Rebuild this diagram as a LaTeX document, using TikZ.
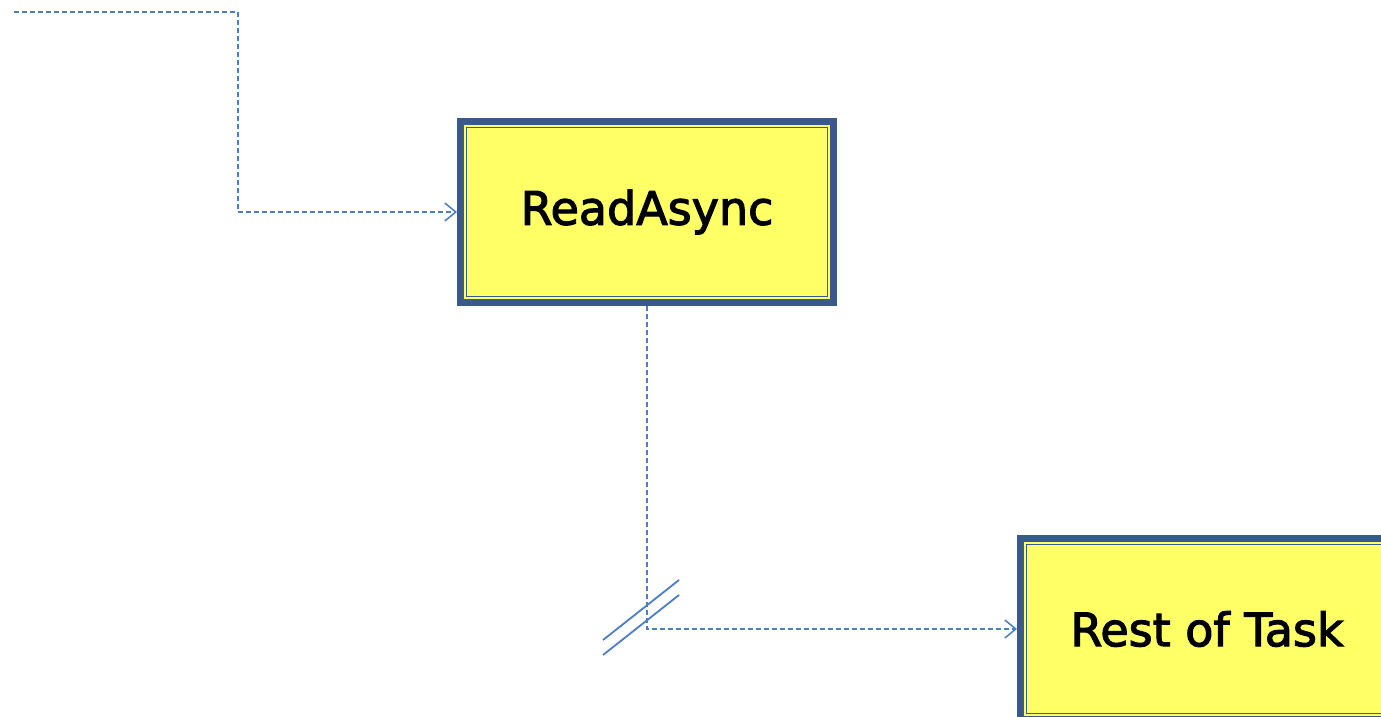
\documentclass[tikz,border=0pt]{standalone}
\usepackage{fontspec}
\setmainfont{DejaVu Sans}
\newfontfamily\boxfont{DejaVu Sans}[FakeBold=2.5]
\usetikzlibrary{arrows.meta}
\definecolor{boxblue}{HTML}{3A5A8C}
\definecolor{boxyellow}{HTML}{FFFF66}
\definecolor{linkblue}{HTML}{4A7EC8}
\tikzset{
  taskbox/.style={draw=boxblue, line width=3.5pt, fill=boxyellow, rectangle,
    minimum width=186.5pt, minimum height=90.5pt, inner sep=0pt,
    font=\boxfont\fontsize{23}{28}\selectfont, text=black},
  conn/.style={draw=linkblue, line width=0.75pt, dash pattern=on 2.5pt off 1.5pt,
    -{Straight Barb[length=5.5pt,width=9pt,line width=0.75pt]}},
  breakmark/.style={draw=linkblue, line width=0.9pt},
  innerline/.style={draw=boxblue, line width=0.7pt}
}
\begin{document}
\begin{tikzpicture}[x=0.5pt,y=-0.5pt]
\useasboundingbox (0,0) rectangle (1381,717);
\clip (0,0) rectangle (1381,717);
\node[taskbox] (a) at (647,212) {ReadAsync};
\node[taskbox] (b) at (1207,629) {Rest of Task};
\foreach \n in {a,b}{
  \draw[innerline] ([shift={(4.75pt,-4.75pt)}]\n.north west) rectangle ([shift={(-4.75pt,4.75pt)}]\n.south east);
}
\coordinate (s) at (14,12);
\coordinate (bend) at (238,12);
\draw[conn] (s) -- (bend) |- (a.west);
\draw[conn] (a.south) |- (b.west);
\coordinate (m1a) at (603,640);
\coordinate (m1b) at (679,580);
\coordinate (m2a) at (603,655);
\coordinate (m2b) at (679,595);
\draw[breakmark] (m1a) -- (m1b);
\draw[breakmark] (m2a) -- (m2b);
\end{tikzpicture}
\end{document}
